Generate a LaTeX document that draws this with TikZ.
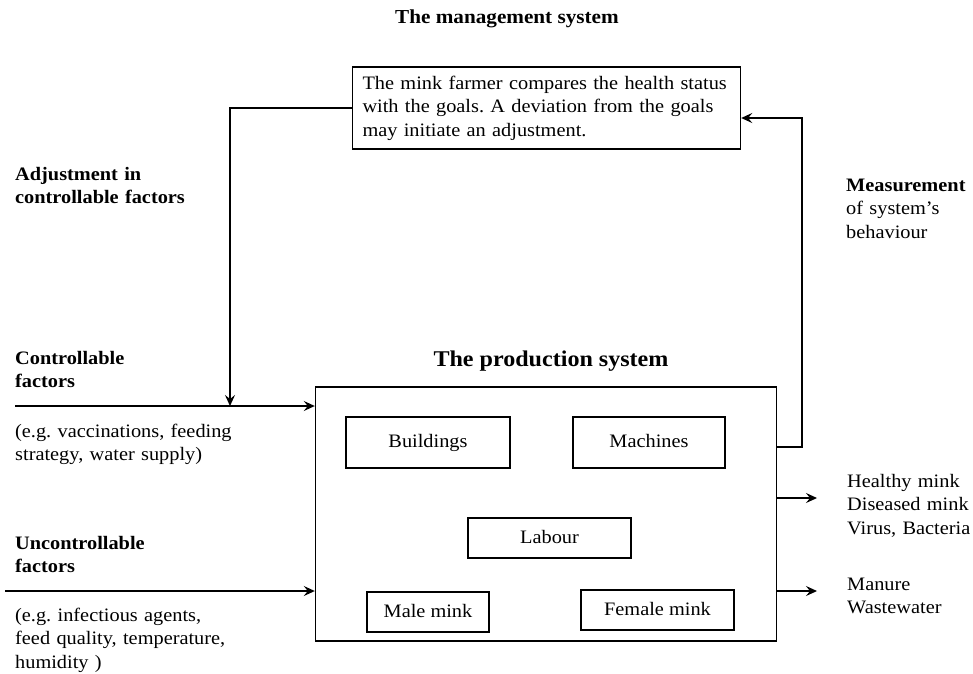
\documentclass[tikz,border=0pt]{standalone}
\usepackage{fontspec}
\setmainfont{Liberation Serif}[FakeStretch=1.07]
\usetikzlibrary{arrows.meta}
\begin{document}
\frenchspacing
\begin{tikzpicture}[x=1pt,y=-1pt,
  body/.style={font=\fontsize{19}{23.5}\selectfont\frenchspacing},
  boldtxt/.style={font=\fontsize{19}{23.5}\selectfont\bfseries\frenchspacing},
  title/.style={font=\fontsize{19.8}{24}\selectfont\bfseries},
  bigtitle/.style={font=\fontsize{22.5}{26}\selectfont\bfseries},
  txt/.style={body,anchor=base west,inner sep=0pt,align=left},
  btxt/.style={boldtxt,anchor=base west,inner sep=0pt,align=left},
  box/.style={draw,line width=1.4pt,body,inner sep=0pt},
  lbox/.style={box,text height=13pt,text depth=3pt},
  conn/.style={line width=1.4pt},
  arr/.style={conn,-{Stealth[length=11pt,width=10pt,inset=4pt]}}
]
\useasboundingbox (0,0) rectangle (973,673);

% titles
\node[title,anchor=base] (t1) at (507,23) {The management system};
\node[bigtitle,anchor=base] (t2) at (551,366) {The production system};

% management box
\node[box,minimum width=388pt,minimum height=82pt,text width=368pt,align=left] (mgmt) at (546.5,108)
  {The mink farmer compares the health status\\with the goals. A deviation from the goals\\may initiate an adjustment.};

% production box
\node[box,minimum width=461pt,minimum height=254pt] (prod) at (546,514) {};
\node[lbox,minimum width=164pt,minimum height=51pt] (build) at (428,442.5) {Buildings};
\node[lbox,minimum width=152pt,minimum height=51pt] (mach) at (649,442.5) {Machines};
\node[lbox,minimum width=163pt,minimum height=40pt] (lab) at (549.5,538) {Labour};
\node[lbox,minimum width=122pt,minimum height=40pt] (male) at (428,612) {Male mink};
\node[lbox,minimum width=153pt,minimum height=40pt] (female) at (657.5,610) {Female mink};

% left texts
\node[btxt,text width=200pt] (adj) at (15,180) {Adjustment in\\controllable factors};
\node[btxt,text width=200pt] (ctrl) at (15,364) {Controllable\\factors};
\node[txt,text width=240pt] (ctrlex) at (15,437) {(e.g. vaccinations, feeding\\strategy, water supply)};
\node[btxt,text width=200pt] (unctrl) at (15,549) {Uncontrollable\\factors};
\node[txt,text width=240pt] (unctrlex) at (15,621) {(e.g. infectious agents,\\feed quality, temperature,\\humidity )};

% right texts
\node[txt,text width=126pt] (meas) at (846,191) {\textbf{Measurement}\\of system's\\behaviour};
\node[txt,text width=126pt] (out1) at (847,487) {Healthy mink\\Diseased mink\\Virus, Bacteria};
\node[txt,text width=126pt] (out2) at (847,590) {Manure\\Wastewater};

% coordinates
\coordinate (cstart) at (15,406);
\coordinate (cjoin) at (230,406);
\coordinate (ustart) at (5,591);
\coordinate (mbot) at (802,447);
\coordinate (mtop) at (802,118);
\coordinate (o1) at (817,498);
\coordinate (o2) at (817,591);

% connectors
\draw[arr] (cstart) -- (cstart -| prod.west);
\draw[arr] (mgmt.west) -| (cjoin);
\draw[arr] (ustart) -- (ustart -| prod.west);
\draw[arr] (mbot -| prod.east) -- (mbot) -- (mtop) -- (mtop -| mgmt.east);
\draw[arr] (o1 -| prod.east) -- (o1);
\draw[arr] (o2 -| prod.east) -- (o2);
\end{tikzpicture}
\end{document}
